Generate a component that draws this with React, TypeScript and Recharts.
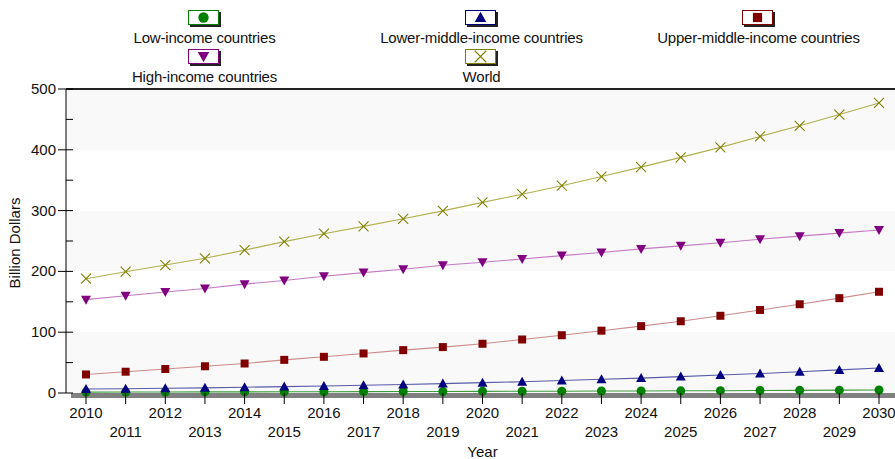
import { LineChart, Line, XAxis, YAxis, CartesianGrid, Legend, ReferenceLine } from 'recharts'

const years = [
  2010, 2011, 2012, 2013, 2014, 2015, 2016, 2017, 2018, 2019, 2020,
  2021, 2022, 2023, 2024, 2025, 2026, 2027, 2028, 2029, 2030,
]
const lowIncome = [1.5, 1.6, 1.7, 1.8, 1.9, 2.0, 2.1, 2.3, 2.4, 2.5, 2.7, 2.9, 3.0, 3.2, 3.4, 3.6, 3.8, 4.1, 4.4, 4.7, 5.0]
const lowerMiddle = [6.5, 7, 7.8, 8.5, 9.5, 10.5, 11.5, 12.8, 14, 15.5, 17, 18.5, 20.5, 22.5, 24.5, 27, 29.5, 32, 35, 38, 41]
const upperMiddle = [30.5, 35, 39.5, 44, 48.5, 54.5, 59.5, 65, 70.5, 75.5, 81, 88, 95, 102.5, 110, 118, 127, 136.5, 146, 156, 166.5]
const highIncome = [153.5, 160, 166, 172, 179, 185, 192, 198, 203.5, 210, 215, 220.5, 226, 231, 237, 242, 247, 253, 258, 263, 268]
const world = [188, 199.5, 210.5, 221.5, 235, 249, 262, 274, 286.5, 299.5, 313.5, 327, 341, 356, 371.5, 387.5, 404, 422, 439.5, 458, 477]

const yTicks = [0, 50, 100, 150, 200, 250, 300, 350, 400, 450, 500]

type Shape = 'circle' | 'triangle' | 'square' | 'triangleDown' | 'cross'

const series: { key: string; name: string; values: number[]; color: string; line: string; shape: Shape }[] = [
  { key: 'low', name: 'Low-income countries', values: lowIncome, color: '#008000', line: '#3c9c3c', shape: 'circle' },
  { key: 'lowerMid', name: 'Lower-middle-income countries', values: lowerMiddle, color: '#000080', line: '#5a5aaa', shape: 'triangle' },
  { key: 'upperMid', name: 'Upper-middle-income countries', values: upperMiddle, color: '#800000', line: '#cc8a8a', shape: 'square' },
  { key: 'high', name: 'High-income countries', values: highIncome, color: '#800080', line: '#c47ac4', shape: 'triangleDown' },
  { key: 'world', name: 'World', values: world, color: '#808000', line: '#b0b050', shape: 'cross' },
]

const data = years.map((year, i) => {
  const row: Record<string, number> = { year }
  series.forEach((s) => {
    row[s.key] = s.values[i]
  })
  return row
})

const FONT = '"Liberation Sans", Arial, sans-serif'

function Marker({ shape, cx, cy, color, k = 1 }: { shape: Shape; cx: number; cy: number; color: string; k?: number }) {
  switch (shape) {
    case 'circle':
      return <circle cx={cx} cy={cy} r={4.5 * k} fill={color} />
    case 'triangle':
      return <polygon points={`${cx},${cy - 5 * k} ${cx + 5 * k},${cy + 4 * k} ${cx - 5 * k},${cy + 4 * k}`} fill={color} />
    case 'square':
      return <rect x={cx - 4 * k} y={cy - 4 * k} width={8 * k} height={8 * k} fill={color} />
    case 'triangleDown':
      return <polygon points={`${cx - 5 * k},${cy - 4 * k} ${cx + 5 * k},${cy - 4 * k} ${cx},${cy + 5 * k}`} fill={color} />
    default:
      return (
        <path
          d={`M${cx - 5 * k},${cy - 5 * k}L${cx + 5 * k},${cy + 5 * k}M${cx + 5 * k},${cy - 5 * k}L${cx - 5 * k},${cy + 5 * k}`}
          stroke={color}
          strokeWidth={1.1}
          fill="none"
        />
      )
  }
}

function LegendBox() {
  return (
    <div
      style={{
        position: 'absolute',
        top: 10,
        left: 66,
        width: 831,
        display: 'grid',
        gridTemplateColumns: '277px 277px 277px',
        rowGap: 3,
        fontFamily: FONT,
        fontSize: 15,
        letterSpacing: -0.2,
        color: '#111',
      }}
    >
      {series.map((s) => (
        <div key={s.key} style={{ display: 'flex', flexDirection: 'column', alignItems: 'center' }}>
          <svg width={33} height={17} style={{ display: 'block' }}>
            <rect x={31} y={2} width={2} height={15} fill="#222" />
            <rect x={2} y={15} width={31} height={2} fill="#222" />
            <rect x={0.5} y={0.5} width={30} height={14} fill="#fff" stroke={s.color} />
            <Marker shape={s.shape} cx={15.5} cy={7.5} color={s.color} k={1.15} />
          </svg>
          <div style={{ lineHeight: '17px', marginTop: 2, whiteSpace: 'nowrap' }}>{s.name}</div>
        </div>
      ))}
    </div>
  )
}

function YTick(props: any) {
  const { x, y, payload } = props
  const major = payload.value % 100 === 0
  return (
    <g>
      <line x1={major ? x - 8 : x} x2={x + 7} y1={y} y2={y} stroke="#000" />
      {major && (
        <text x={x - 10} y={y} dy={5} textAnchor="end" fontSize={15} fontFamily={FONT} fill="#111">
          {payload.value}
        </text>
      )}
    </g>
  )
}

function XTick(props: any) {
  const { x, y, payload } = props
  const odd = payload.value % 2 === 1
  return (
    <g>
      <line x1={x} x2={x} y1={y} y2={y + 11} stroke="#000" />
      <text x={x} y={y + (odd ? 44 : 25)} textAnchor="middle" fontSize={15} fontFamily={FONT} fill="#111">
        {payload.value}
      </text>
    </g>
  )
}

export default function App() {
  return (
    <div style={{ position: 'absolute', left: 0, top: 0, width: 895, height: 459, fontFamily: FONT, background: '#fff' }}>
      <LineChart width={895} height={459} data={data} margin={{ top: 89, right: 0, bottom: 0, left: 0 }}>
        <CartesianGrid
          vertical={false}
          stroke="none"
          horizontalFill={['#f9f9f9', '#f9f9f9', '#ffffff', '#ffffff']}
        />
        <XAxis
          dataKey="year"
          type="number"
          domain={[2010, 2030]}
          ticks={years}
          interval={0}
          padding={{ left: 20, right: 16 }}
          height={66}
          tickSize={0}
          tickMargin={0}
          tickLine={false}
          axisLine={{ stroke: '#808080', strokeWidth: 5, transform: 'translate(5,2.5)' }}
          tick={XTick}
          label={({ viewBox }: any) => (
            <text x={viewBox.x + viewBox.width / 2 + 2} y={viewBox.y + 64} textAnchor="middle" fontSize={15} fontFamily={FONT} fill="#111">
              Year
            </text>
          )}
        />
        <YAxis
          domain={[0, 500]}
          ticks={yTicks}
          interval={0}
          width={66}
          tickSize={0}
          tickMargin={0}
          tickLine={false}
          axisLine={{ stroke: '#000' }}
          tick={YTick}
          label={({ viewBox }: any) => {
            const cx = viewBox.x + 15
            const cy = viewBox.y + viewBox.height / 2 + 2
            return (
              <text x={cx} y={cy} dy={5} transform={`rotate(-90 ${cx} ${cy})`} textAnchor="middle" fontSize={15} fontFamily={FONT} fill="#111">
                Billion Dollars
              </text>
            )
          }}
        />
        <ReferenceLine y={500} stroke="#222" strokeWidth={2} />
        <Legend layout="horizontal" verticalAlign="middle" align="center" wrapperStyle={{ top: 0, left: 0, width: 895 }} content={() => <LegendBox />} />
        {series.map((s) => (
          <Line
            key={s.key}
            dataKey={s.key}
            name={s.name}
            type="linear"
            stroke={s.line}
            strokeWidth={1.1}
            isAnimationActive={false}
            activeDot={false}
            dot={(p: any) => <Marker key={`${s.key}-${p.index}`} shape={s.shape} cx={p.cx} cy={p.cy} color={s.color} />}
          />
        ))}
      </LineChart>
    </div>
  )
}
